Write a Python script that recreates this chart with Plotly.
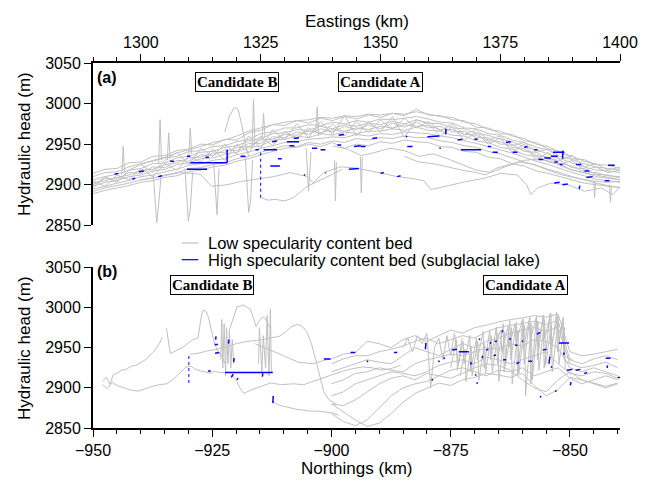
import plotly.graph_objects as go

# ---------------- panel (a): Eastings profiles ----------------
XA = [1290, 1292.5, 1295, 1297.5, 1300, 1302.5, 1305, 1307.5, 1310, 1312.5, 1315, 1317.5, 1320, 1322.5, 1325,
      1327.5, 1330, 1332.5, 1335, 1337.5, 1340, 1342.5, 1345, 1347.5, 1350, 1352.5, 1355, 1357.5, 1360, 1362.5,
      1365, 1367.5, 1370, 1372.5, 1375, 1377.5, 1380, 1382.5, 1385, 1387.5, 1390, 1392.5, 1395, 1397.5, 1400]

A1 = [2914, 2919, 2920, 2927, 2928, 2935, 2936, 2942, 2944, 2950, 2949, 2956, 2955, 2964, 2967, 2974, 2973, 2979, 2976, 2982,
      2979, 2984, 2981, 2986, 2983, 2988, 2985, 2993, 2986, 2985, 2980, 2979, 2971, 2970, 2963, 2962, 2954, 2952, 2944, 2941,
      2932, 2931, 2925, 2924, 2920]
A2 = [2910, 2915, 2916, 2922, 2926, 2929, 2933, 2935, 2941, 2942, 2947, 2948, 2953, 2956, 2963, 2965, 2970, 2970, 2974, 2973,
      2977, 2975, 2979, 2977, 2981, 2980, 2982, 2984, 2981, 2977, 2976, 2970, 2969, 2963, 2961, 2955, 2952, 2946, 2943, 2935,
      2931, 2926, 2922, 2920, 2918]
A3 = [2906, 2910, 2913, 2918, 2920, 2926, 2927, 2933, 2935, 2940, 2941, 2946, 2948, 2954, 2957, 2963, 2964, 2968, 2967, 2972,
      2969, 2974, 2972, 2976, 2974, 2978, 2975, 2980, 2976, 2975, 2970, 2969, 2963, 2961, 2956, 2953, 2947, 2943, 2938, 2932,
      2927, 2922, 2918, 2917, 2915]
A4 = [2902, 2905, 2909, 2912, 2918, 2919, 2925, 2927, 2933, 2934, 2939, 2940, 2946, 2947, 2955, 2956, 2962, 2961, 2966, 2964,
      2968, 2966, 2970, 2968, 2972, 2970, 2974, 2972, 2973, 2968, 2968, 2962, 2961, 2954, 2953, 2946, 2944, 2936, 2934, 2926,
      2923, 2916, 2915, 2911, 2910]
A5 = [2898, 2903, 2905, 2910, 2912, 2917, 2919, 2925, 2927, 2932, 2933, 2938, 2940, 2946, 2948, 2955, 2956, 2960, 2958, 2963,
      2961, 2965, 2963, 2966, 2966, 2969, 2967, 2971, 2967, 2966, 2961, 2960, 2954, 2952, 2946, 2944, 2937, 2935, 2928, 2925,
      2918, 2915, 2910, 2908, 2906]
A6 = [2895, 2898, 2902, 2905, 2910, 2912, 2916, 2919, 2924, 2926, 2930, 2932, 2937, 2940, 2945, 2948, 2952, 2953, 2956, 2957,
      2959, 2958, 2962, 2960, 2963, 2962, 2965, 2964, 2963, 2960, 2958, 2954, 2951, 2947, 2943, 2939, 2934, 2929, 2925, 2920,
      2915, 2911, 2907, 2905, 2903]
A7 = [2892, 2896, 2899, 2902, 2906, 2908, 2912, 2915, 2920, 2921, 2925, 2927, 2932, 2935, 2940, 2944, 2948, 2947, 2952, 2950,
      2954, 2952, 2957, 2955, 2958, 2957, 2960, 2958, 2958, 2954, 2952, 2948, 2946, 2941, 2938, 2933, 2928, 2924, 2919, 2915,
      2910, 2906, 2902, 2899, 2896]
A8 = [None, None, None, None, 2925, 2930, 2934, 2939, 2943, 2947, 2952, 2955, 2960, 2966, 2970, 2974, 2977, 2979, 2980, 2983,
      2982, 2985, 2984, 2987, 2986, 2988, 2987, 2990, 2987, 2984, 2983, 2977, 2975, 2968, 2966, 2960, 2957, 2950, 2947, 2940,
      2935, 2929, 2925, None, None]
A9 = [2900, 2908, 2907, 2915, 2914, 2922, 2921, 2930, 2929, 2937, 2936, 2943, 2942, 2951, 2951, 2959, 2958, 2965, 2962, 2969,
      2965, 2972, 2968, 2974, 2969, 2976, 2971, 2977, 2970, 2972, 2965, 2966, 2958, 2958, 2950, 2950, 2941, 2940, 2931, 2930,
      2921, 2920, 2913, 2912, 2908]
A10 = [2889, 2893, 2896, 2899, 2903, 2905, 2909, 2911, 2916, 2918, 2922, 2924, 2929, 2932, 2937, 2941, 2945, 2946, 2950, 2947,
       2952, 2945, 2950, 2948, 2953, 2951, 2955, 2953, 2952, 2947, 2946, 2941, 2940, 2934, 2932, 2926, 2923, 2917, 2914, 2910,
       2906, 2902, 2900, 2898, 2897]
A11 = [2897, 2910, 2903, 2918, 2925, 2915, 2930, 2940, 2925, 2945, 2935, 2950, 2938, 2960, 2945, 2968, 2955, 2975, 2958, 2978,
       2962, 2985, 2960, 2978, 2965, 2984, 2958, 2980, 2975, 2960, 2972, 2955, 2965, 2950, 2958, 2940, 2950, 2930, 2940, 2925,
       2930, 2918, 2922, 2915, 2918]
A12 = [2905, 2898, 2912, 2906, 2920, 2910, 2926, 2918, 2935, 2928, 2944, 2930, 2950, 2940, 2960, 2948, 2966, 2956, 2970, 2962,
       2975, 2960, 2978, 2964, 2980, 2968, 2982, 2970, 2978, 2966, 2975, 2962, 2968, 2955, 2960, 2948, 2952, 2940, 2944, 2930,
       2936, 2922, 2926, 2918, 2922]

LOW_A1_X = [1325.2, 1326.5, 1328, 1330, 1331.8, 1333, 1334.7, 1336.5, 1338, 1340, 1342]
LOW_A1_Y = [2884, 2881, 2882, 2880, 2884, 2890, 2898, 2903, 2907, 2913, 2919]
LOW_A2_X = [1299.8, 1304, 1308.2, 1312.4, 1314.8, 1318, 1320.8, 1323.5, 1327.7, 1331.2, 1334.7, 1336, 1338.1, 1341.7,
            1344.4, 1348, 1350.7, 1353.5, 1356.3, 1359.1, 1360.5, 1362, 1364.7, 1368, 1371.7, 1375.1, 1378.6, 1380.5,
            1381.4, 1382.8, 1385.6, 1389.1, 1392.6, 1396.1, 1398.5, 1400]
LOW_A2_Y = [2906, 2910, 2915, 2913, 2898, 2900, 2904, 2906, 2910, 2915, 2910, 2902, 2915, 2922, 2921, 2917, 2914, 2910,
            2908, 2905, 2894, 2896, 2900, 2904, 2908, 2914, 2912, 2900, 2888, 2896, 2902, 2900, 2892, 2896, 2888, 2897]
MID_A1_X = [1340, 1343, 1346, 1349, 1352, 1355, 1358, 1361, 1364, 1367, 1370, 1373, 1376, 1379, 1382, 1385, 1388, 1391,
            1394, 1397, 1400]
MID_A1_Y = [2948, 2944, 2936, 2940, 2945, 2942, 2935, 2938, 2932, 2925, 2918, 2915, 2922, 2928, 2925, 2918, 2912, 2908,
            2905, 2903, 2904]
MID_A2_X = [1355, 1358, 1361, 1364, 1367, 1370, 1372, 1374, 1377, 1380, 1383, 1386, 1389, 1392, 1395, 1398, 1400]
MID_A2_Y = [2935, 2928, 2926, 2922, 2918, 2915, 2912, 2920, 2925, 2930, 2932, 2928, 2920, 2915, 2912, 2908, 2906]

SPIKE_A_X = [
    [1302.6, 1303.0, 1303.3, 1303.7, 1304.2],
    [1309.2, 1309.6, 1309.9, 1310.3, 1310.8],
    [1315.2, 1315.6, 1315.9, 1316.3],
    [1321.8, 1322.2, 1322.5, 1322.9, 1323.3],
    [1334.5, 1335.0, 1335.5],
    [1340.4, 1340.6, 1340.8],
    [1345.8, 1346.0, 1346.2],
    [1296.0, 1296.3, 1296.6],
    [1303.7, 1304.0, 1304.3],
    [1305.5, 1305.8, 1306.1],
    [1310.0, 1310.3, 1310.6],
    [1317.5, 1318.5, 1319.5, 1320.3, 1321.0, 1321.8, 1322.5],
    [1323.2, 1323.5, 1323.8],
    [1325.3, 1325.6, 1325.9],
    [1336.5, 1336.8, 1337.1],
    [1394.5, 1394.7, 1394.9],
    [1397.8, 1398.0, 1398.2],
]
SPIKE_A_Y = [
    [2912, 2880, 2853, 2875, 2910],
    [2920, 2885, 2855, 2870, 2915],
    [2925, 2890, 2863, 2920],
    [2935, 2895, 2866, 2880, 2930],
    [2945, 2892, 2940],
    [2930, 2880, 2928],
    [2935, 2890, 2934],
    [2912, 2947, 2914],
    [2925, 2980, 2930],
    [2930, 2964, 2932],
    [2935, 2970, 2938],
    [2965, 2985, 2995, 2993, 2975, 2950, 2935],
    [2945, 3005, 2950],
    [2955, 2988, 2958],
    [2965, 2996, 2960],
    [2905, 2884, 2904],
    [2900, 2878, 2899],
]

BLUE_A_X = [
    [1299.6, 1300.6], [1303.6, 1304.4], [1306.1, 1306.9], [1309.6, 1310.3], [1310.3, 1318.0], [1309.6, 1313.8],
    [1318.0, 1318.0], [1313.5, 1314.2], [1320.8, 1321.8], [1323.9, 1324.6], [1325.6, 1328.4],
    [1327.0, 1329.0], [1327.4, 1328.4], [1330.5, 1333.0], [1331.0, 1332.0], [1331.9, 1333.0], [1334.0, 1334.3],
    [1335.7, 1336.8], [1337.5, 1338.5], [1338.5, 1338.6], [1341.3, 1342.4], [1341.0, 1341.8], [1344.5, 1345.9],
    [1343.4, 1345.5], [1345.9, 1346.9], [1348.3, 1349.3], [1350.0, 1350.7], [1353.5, 1354.2], [1355.3, 1355.6],
    [1355.6, 1356.7], [1359.8, 1362.3], [1363.6, 1363.7], [1362.3, 1362.6], [1366.1, 1367.1], [1366.8, 1371.0],
    [1369.6, 1370.3], [1372.4, 1373.1], [1373.4, 1374.5], [1376.2, 1377.2], [1377.6, 1378.6], [1380.0, 1380.7],
    [1382.1, 1382.8], [1383.0, 1384.0], [1384.2, 1385.6], [1385.6, 1387.0], [1386.0, 1388.4], [1388.0, 1388.1],
    [1386.3, 1387.0], [1387.4, 1388.0], [1390.8, 1391.9], [1392.6, 1393.6], [1393.0, 1394.3], [1396.8, 1397.8],
    [1397.5, 1398.9], [1386.3, 1387.4], [1388.0, 1389.1], [1391.5, 1391.6], [1294.5, 1295.3], [1298.2, 1298.8],
    [1328.6, 1329.4],
]
BLUE_A_Y = [
    [2916, 2917], [2910, 2911], [2929, 2929], [2935, 2935], [2927, 2927], [2919, 2919],
    [2927, 2943], [2934, 2934], [2935, 2935], [2943, 2943], [2943, 2943],
    [2923, 2923], [2953, 2954], [2953, 2953], [2948, 2948], [2957, 2958], [2912, 2912],
    [2945, 2945], [2943, 2943], [2914, 2915], [2961, 2962], [2949, 2949], [2947, 2948],
    [2919, 2920], [2947, 2947], [2957, 2958], [2914, 2915], [2910, 2911], [2959, 2960],
    [2947, 2947], [2959, 2960], [2962, 2969], [2945, 2945], [2955, 2956], [2943, 2943],
    [2956, 2956], [2947, 2947], [2940, 2940], [2952, 2953], [2940, 2940], [2946, 2947],
    [2943, 2943], [2931, 2931], [2933, 2933], [2935, 2935], [2940, 2940], [2932, 2942],
    [2928, 2928], [2925, 2925], [2925, 2925], [2917, 2917], [2909, 2910], [2905, 2905],
    [2924, 2924], [2902, 2903], [2900, 2901], [2895, 2899], [2913, 2914], [2907, 2908],
    [2932, 2932],
]
BLUE_A_DOT_X = [[1325.0, 1325.0]]
BLUE_A_DOT_Y = [[2884, 2943]]

# ---------------- panel (b): Northings profiles ----------------
PB1_X = [-948, -947.2, -946.4, -945.8, -945, -944, -943, -942, -941, -940, -939, -938, -937, -936, -935.5]
PB1_Y = [2908, 2913, 2904, 2916, 2918, 2922, 2923, 2927, 2928, 2931, 2935, 2941, 2947, 2956, 2963]
PB2_X = [-948, -947, -946, -945, -944, -943, -942, -940.5, -939, -937.5, -936, -934.5, -933.5, -932.5, -931.5,
         -930.5, -929.5, -928.5, -927.5, -926.5, -925.5, -924.5, -923.5, -922.3]
PB2_Y = [2904, 2899, 2907, 2903, 2901, 2899, 2897, 2896, 2899, 2902, 2904, 2905, 2909, 2914, 2920, 2926, 2927,
         2923, 2921, 2920, 2918, 2921, 2919, 2919]
PB3_X = [-934.6, -934.2, -933.8, -933, -932, -931, -930, -929, -928, -927.6, -927.2, -926.8, -926.3, -925.8,
         -925.4, -924.8, -924.3, -923.6, -923, -922.3]
PB3_Y = [2974, 2958, 2943, 2945, 2948, 2951, 2956, 2960, 2962, 2975, 2992, 2997, 2995, 2988, 2976, 2962, 2952,
         2943, 2940, 2930]
PB4_X = [-929.6, -928, -926, -924, -922, -920, -917.7, -915.5, -913, -911, -909.5, -908.5, -907.2, -906.2, -905.2,
         -904.2, -903.3, -902.5, -901.6, -900.5, -899]
PB4_Y = [2942, 2943, 2946, 2948, 2951, 2955, 2958, 2959, 2962, 2964, 2970, 2976, 2979, 2977, 2970, 2955, 2935,
         2915, 2895, 2885, 2880]
PB5_X = [-921.5, -920.5, -919.8, -919, -918.4, -917.6, -917, -916.4, -915.8, -915.3, -914.7, -914.2, -913.6, -913]
PB5_Y = [2970, 2990, 3001, 3002, 3003, 3000, 2998, 2988, 2976, 2982, 2987, 2988, 2984, 2975]
PB6_X = [-921, -920, -919.2, -918.4, -917, -915, -912.8, -910.5, -908, -905.8, -903.5, -901.5, -899.5, -897.5,
         -895.5, -893.5, -891.5, -889.5, -887.5, -885.5]
PB6_Y = [2916, 2910, 2900, 2893, 2897, 2901, 2906, 2904, 2905, 2904, 2909, 2913, 2917, 2921, 2924, 2926, 2925,
         2922, 2924, 2928]
PB7_X = [-912.3, -911.2, -910, -908.5, -907, -905.5, -904.4, -903, -901.5, -900, -898.5]
PB7_Y = [2883, 2879, 2877, 2875, 2873, 2872, 2871, 2871, 2870, 2869, 2866]
PB9_X = [-916, -913, -910, -907, -904, -901, -900]
PB9_Y = [2955, 2948, 2940, 2932, 2930, 2935, 2936]

ZB1_X = [-923.2, -923, -922.8, -922.5, -922.2, -922, -921.7, -921.4, -921.1, -920.8, -920.5]
ZB1_Y = [2935, 2985, 2925, 2980, 2915, 2975, 2930, 2970, 2925, 2960, 2930]
ZB2_X = [-915.3, -915.1, -914.6, -914.3, -913.8, -913.5, -913.1, -912.8, -912.6]
ZB2_Y = [2930, 2975, 2920, 2965, 2925, 2990, 2915, 2998, 2920]

XBR = [-900, -897.5, -895, -892.5, -890, -887.5, -885, -882.5, -880, -877.5, -875, -872.5, -870, -867.5, -865,
       -862.5, -860, -857.5, -855, -852.5, -850, -847.5, -845, -842.5, -840]
R1 = [2936, 2942, 2944, 2958, 2955, 2950, 2960, 2965, 2958, 2965, 2972, 2968, 2975, 2978, 2982, 2985, 2987, 2990,
      2988, 2992, 2945, 2940, 2942, 2945, 2948]
R2 = [2930, 2936, 2940, 2940, 2945, 2948, 2952, 2958, 2962, 2955, 2960, 2965, 2962, 2970, 2975, 2978, 2980, 2983,
      2979, 2984, 2935, 2930, 2936, 2940, 2935]
R3 = [2920, 2925, 2930, 2935, 2932, 2930, 2940, 2950, 2945, 2940, 2948, 2955, 2950, 2958, 2962, 2968, 2972, 2975,
      2970, 2976, 2930, 2925, 2928, 2932, 2925]
R4 = [2905, 2910, 2918, 2920, 2925, 2922, 2920, 2930, 2935, 2938, 2942, 2940, 2945, 2950, 2948, 2955, 2952, 2960,
      2958, 2950, 2925, 2920, 2925, 2920, 2915]
R5 = [2890, 2895, 2905, 2910, 2915, 2920, 2918, 2915, 2920, 2928, 2932, 2935, 2930, 2938, 2935, 2930, 2935, 2940,
      2945, 2930, 2918, 2915, 2920, 2918, 2912]
R6 = [2880, 2878, 2885, 2895, 2905, 2912, 2915, 2910, 2918, 2915, 2922, 2925, 2920, 2915, 2922, 2920, 2925, 2915,
      2920, 2925, 2912, 2905, 2910, 2915, 2910]
R7 = [2868, 2858, 2853, 2860, 2875, 2890, 2900, 2905, 2908, 2915, 2912, 2918, 2925, 2930, 2928, 2922, 2910, 2900,
      2895, 2910, 2920, 2910, 2905, 2900, 2905]
R8 = [2880, 2870, 2860, 2852, 2856, 2868, 2882, 2893, 2900, 2906, 2903, 2910, 2913, 2918, 2916, 2913, 2918, 2903,
      2890, 2898, 2913, 2910, 2906, 2902, 2906]

Z1_X = [-875, -873.8, -873.6, -872.4, -872.2, -871, -870.8, -869.6, -869.4, -868.2, -868, -866.8, -866.6, -865.4,
        -865.2, -864, -863.8, -862.6, -862.4, -861.2, -861, -859.8, -859.6, -858.4, -858.2, -857, -856.8, -855.6,
        -855.4, -854.2, -854, -852.8, -852.6, -851.4, -851.2, -850]
Z1_Y = [2925, 2960, 2922, 2958, 2930, 2965, 2920, 2962, 2935, 2970, 2925, 2972, 2935, 2976, 2930, 2980, 2920, 2984,
        2935, 2982, 2915, 2986, 2930, 2988, 2905, 2990, 2935, 2990, 2925, 2992, 2940, 2994, 2945, 2988, 2935, 2930]
Z2_X = [-873, -872, -871.8, -870.7, -870.5, -869.3, -869.1, -867.9, -867.7, -866.5, -866.3, -865.1, -864.9, -863.7,
        -863.5, -862.3, -862.1, -860.9, -860.7, -859.5, -859.3, -858.1, -857.9, -856.7, -856.5, -855.3, -855.1,
        -853.9, -853.7, -852.5, -852.3, -851.2, -851, -850.2]
Z2_Y = [2915, 2948, 2908, 2952, 2915, 2958, 2910, 2955, 2918, 2965, 2920, 2968, 2908, 2970, 2928, 2975, 2905, 2972,
        2918, 2978, 2890, 2980, 2910, 2983, 2922, 2985, 2928, 2978, 2920, 2982, 2930, 2975, 2925, 2920]
Z3_X = [-885, -884, -883, -882, -881, -880, -879.2, -878.4, -877.5, -876.6, -875.8, -875, -874.2, -873.4, -872.6]
Z3_Y = [2950, 2962, 2945, 2965, 2955, 2968, 2900, 2950, 2962, 2935, 2965, 2940, 2968, 2930, 2962]
Z4_X = [-866, -864.5, -864.3, -863, -862.8, -861.5, -861.3, -860, -859.8, -858.5, -858.3, -857, -856.8, -855.5,
        -855.3, -854, -853.8, -852.5, -852.3, -851.5, -851.3, -849.5]
Z4_Y = [2950, 2972, 2945, 2976, 2950, 2980, 2955, 2984, 2948, 2986, 2960, 2989, 2952, 2991, 2962, 2993, 2955, 2990,
        2958, 2985, 2940, 2935]

BLUE_B_X = [
    [-924.3, -924.2], [-924.5, -923.8], [-924.4, -923.5], [-921.6, -921.5], [-925.9, -925.3],
    [-922.3, -912.3], [-921.0, -920.6], [-920.5, -920.4], [-919.8, -919.6], [-914.5, -914.4], [-912.3, -912.2],
    [-901.6, -900.2], [-896.0, -895.0], [-886.9, -886.2], [-892.5, -892.4], [-880.3, -880.2], [-877.5, -877.4],
    [-878.9, -878.8], [-876.4, -876.3], [-874.7, -873.7], [-873.3, -871.2], [-870.8, -870.7], [-869.8, -869.7],
    [-869.5, -869.4], [-869.1, -868.8], [-868.4, -868.3], [-867.6, -867.1], [-866.7, -866.6], [-865.8, -865.3],
    [-864.2, -864.1], [-864.0, -863.4], [-862.6, -862.5], [-861.2, -860.6], [-860.0, -859.9], [-858.7, -857.9],
    [-856.9, -856.2], [-855.7, -854.9], [-854.4, -854.2], [-853.9, -853.8], [-852.3, -850.2], [-851.3, -851.2],
    [-850.6, -849.5], [-848.8, -847.8], [-847.0, -846.4], [-842.5, -841.5], [-842.2, -842.1], [-840.0, -839.5],
    [-849.9, -849.8], [-853.0, -852.9], [-856.2, -856.1], [-866.0, -865.5], [-861.5, -861.0],
]
BLUE_B_Y = [
    [2960, 2964], [2954, 2954], [2943, 2944], [2955, 2960], [2921, 2921],
    [2919, 2919], [2913, 2917], [2932, 2937], [2910, 2912], [2914, 2918], [2881, 2890],
    [2936, 2936], [2944, 2944], [2944, 2944], [2932, 2934], [2948, 2956], [2932, 2934],
    [2909, 2911], [2936, 2938], [2947, 2948], [2945, 2945], [2929, 2932], [2915, 2917],
    [2905, 2907], [2960, 2961], [2937, 2940], [2947, 2948], [2955, 2957], [2958, 2958],
    [2969, 2972], [2935, 2935], [2960, 2962], [2930, 2932], [2957, 2959], [2933, 2933],
    [2967, 2969], [2947, 2948], [2930, 2939], [2925, 2927], [2956, 2956], [2941, 2944],
    [2922, 2923], [2922, 2923], [2918, 2919], [2937, 2937], [2925, 2928], [2913, 2913],
    [2903, 2907], [2895, 2897], [2888, 2890], [2940, 2941], [2953, 2953],
]
BLUE_B_DOT_X = [[-929.9, -929.9]]
BLUE_B_DOT_Y = [[2906, 2943]]

LEGEND_LABELS = ["Low specularity content bed", "High specularity content bed (subglacial lake)"]

GRAY = "#c0c0c0"
BLUE = "#0000ff"

fig = go.Figure()


def gray_line(x, y, xa, ya):
    fig.add_trace(go.Scatter(x=x, y=y, mode="lines", line=dict(color=GRAY, width=1),
                             xaxis=xa, yaxis=ya, showlegend=False, hoverinfo="skip"))


def blue_segments(xs, ys, xa, ya, width=1.5, dash="solid"):
    bx, by = [], []
    for sx, sy in zip(xs, ys):
        bx += list(sx) + [None]
        by += list(sy) + [None]
    fig.add_trace(go.Scatter(x=bx, y=by, mode="lines", line=dict(color=BLUE, width=width, dash=dash),
                             xaxis=xa, yaxis=ya, showlegend=False, hoverinfo="skip"))


for line in (A1, A2, A3, A4, A5, A6, A7, A8, A9, A10, A11, A12):
    gray_line(XA, line, "x", "y")
for lx, ly in ((LOW_A1_X, LOW_A1_Y), (LOW_A2_X, LOW_A2_Y), (MID_A1_X, MID_A1_Y), (MID_A2_X, MID_A2_Y)):
    gray_line(lx, ly, "x", "y")
for sx, sy in zip(SPIKE_A_X, SPIKE_A_Y):
    gray_line(sx, sy, "x", "y")
blue_segments(BLUE_A_X, BLUE_A_Y, "x", "y")
blue_segments(BLUE_A_DOT_X, BLUE_A_DOT_Y, "x", "y", width=1, dash="dot")

for lx, ly in ((PB1_X, PB1_Y), (PB2_X, PB2_Y), (PB3_X, PB3_Y), (PB4_X, PB4_Y), (PB5_X, PB5_Y), (PB6_X, PB6_Y),
               (PB7_X, PB7_Y), (PB9_X, PB9_Y), (ZB1_X, ZB1_Y), (ZB2_X, ZB2_Y), (Z1_X, Z1_Y), (Z2_X, Z2_Y),
               (Z3_X, Z3_Y), (Z4_X, Z4_Y)):
    gray_line(lx, ly, "x2", "y2")
for line in (R1, R2, R3, R4, R5, R6, R7, R8):
    gray_line(XBR, line, "x2", "y2")
blue_segments(BLUE_B_X, BLUE_B_Y, "x2", "y2")
blue_segments(BLUE_B_DOT_X, BLUE_B_DOT_Y, "x2", "y2", width=1, dash="dot")

axis_common = dict(showgrid=False, zeroline=False, showline=True, linewidth=2, linecolor="black",
                   ticks="outside", ticklen=7, tickwidth=1.3, tickcolor="black",
                   tickfont=dict(size=16, color="black"))

# page body has an 8px margin, so the figure is sized to fit inside the 654x483 window
fig.update_layout(
    width=646, height=475,
    margin=dict(l=85, r=34, t=55, b=55),
    paper_bgcolor="white", plot_bgcolor="white",
    showlegend=False,
    font=dict(family="Liberation Sans, Arial, sans-serif", size=16, color="black"),
    xaxis=dict(domain=[0, 1], anchor="y", side="top", range=[1290, 1400], tick0=1300, dtick=25,
               minor=dict(dtick=5, tick0=1290, ticks="outside", ticklen=4, tickwidth=1, tickcolor="black"),
               **axis_common),
    yaxis=dict(domain=[0.5553, 1], anchor="x", range=[2850, 3050], tick0=2850, dtick=50, **axis_common),
    xaxis2=dict(domain=[0, 1], anchor="y2", side="bottom", range=[-950, -839.5], tick0=-950, dtick=25,
                minor=dict(dtick=5, tick0=-950, ticks="outside", ticklen=4, tickwidth=1, tickcolor="black"),
                **axis_common),
    yaxis2=dict(domain=[0, 0.44], anchor="x2", range=[2850, 3050], tick0=2850, dtick=50, **axis_common),
)

ann = []
ann.append(dict(text="Eastings (km)", xref="paper", yref="paper", x=0.5, y=1.146, xanchor="center",
                yanchor="top", showarrow=False, font=dict(size=17)))
ann.append(dict(text="Northings (km)", xref="paper", yref="paper", x=0.5, y=-0.112, xanchor="center",
                yanchor="middle", showarrow=False, font=dict(size=17)))
for yc in (0.7784, 0.2192):
    ann.append(dict(text="Hydraulic head (m)", xref="paper", yref="paper", x=-0.129, y=yc, xanchor="center",
                    yanchor="middle", textangle=-90, showarrow=False, font=dict(size=17)))
ann.append(dict(text="<b>(a)</b>", xref="paper", yref="paper", x=0.004, y=0.9603, xanchor="left",
                yanchor="middle", showarrow=False, font=dict(size=16)))
ann.append(dict(text="<b>(b)</b>", xref="paper", yref="paper", x=0.004, y=0.4274, xanchor="left",
                yanchor="middle", showarrow=False, font=dict(size=16)))
for txt, xp, yp in (("Candidate B", 0.2727, 0.9466), ("Candidate A", 0.5455, 0.9466),
                    ("Candidate B", 0.2258, 0.3918), ("Candidate A", 0.8207, 0.3918)):
    ann.append(dict(text="<b>" + txt + "</b>", xref="paper", yref="paper", x=xp, y=yp, xanchor="center",
                    yanchor="middle", showarrow=False, bordercolor="black", borderwidth=1, borderpad=1,
                    bgcolor="white", font=dict(family="Liberation Serif, Times New Roman, serif", size=15)))
for lbl, yp in zip(LEGEND_LABELS, (0.5068, 0.4611)):
    ann.append(dict(text=lbl, xref="paper", yref="paper", x=0.2144, y=yp, xanchor="left", yanchor="middle",
                    showarrow=False, font=dict(size=16.5)))
fig.update_layout(annotations=ann)

shapes = [
    dict(type="line", xref="paper", yref="paper", x0=0.1683, x1=0.1998, y0=0.5068, y1=0.5068,
         line=dict(color=GRAY, width=1.2)),
    dict(type="line", xref="paper", yref="paper", x0=0.1683, x1=0.1998, y0=0.4611, y1=0.4611,
         line=dict(color=BLUE, width=1.2)),
]
fig.update_layout(shapes=shapes)

fig.write_html("out.html")
